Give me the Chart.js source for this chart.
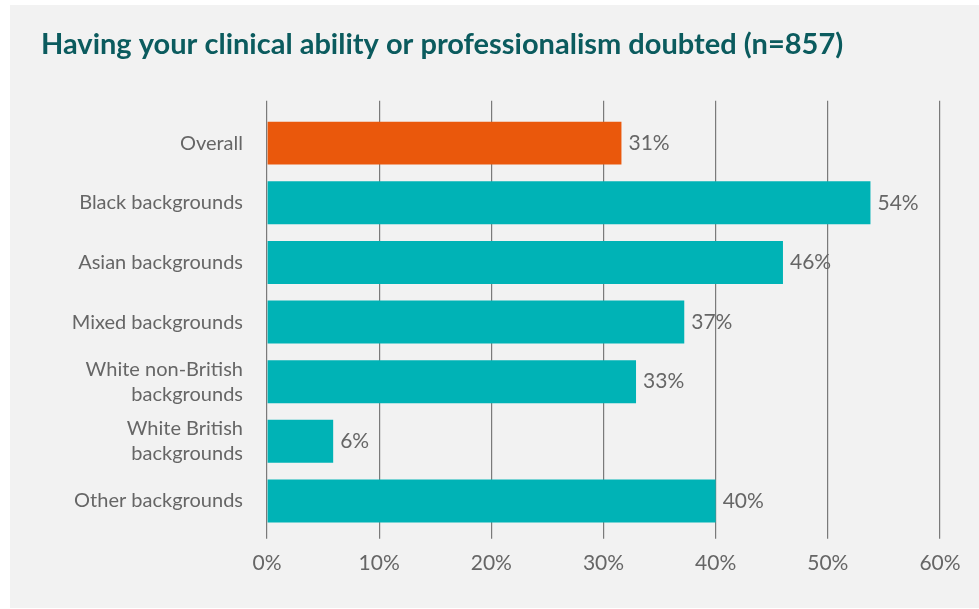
<!DOCTYPE html>
<html>
<head>
<meta charset="utf-8">
<script src="https://cdn.jsdelivr.net/npm/chart.js@4/dist/chart.umd.min.js"></script>
<style>
  html, body { margin: 0; padding: 0; background: #ffffff; }
  #panel { position: absolute; left: 10px; top: 5px; width: 969px; height: 603px; background: #f2f2f2; }
  #chart { display: block; }
</style>
</head>
<body>
<div id="panel"><canvas id="chart" width="969" height="603"></canvas></div>
<script>
var categories = ["Overall", "Black backgrounds", "Asian backgrounds", "Mixed backgrounds",
  ["White non-British", "backgrounds"], ["White British", "backgrounds"], "Other backgrounds"];
var values = [31.6, 53.8, 46.0, 37.2, 32.9, 5.9, 40.0];
var valuelabels = ["31%", "54%", "46%", "37%", "33%", "6%", "40%"];
var xticks = [0, 10, 20, 30, 40, 50, 60];

var orange = "#ea580c";
var teal = "#00b3b6";
var gridgray = "#7a7a7a";
var textgray = "#666666";

//value labels at bar ends
var barlabels = {
  id: "barlabels",
  afterDatasetsDraw: function(chart) {
    var ctx = chart.ctx;
    var meta = chart.getDatasetMeta(0);
    ctx.save();
    ctx.font = "21px Lato";
    ctx.fillStyle = textgray;
    ctx.textAlign = "left";
    ctx.textBaseline = "middle";
    meta.data.forEach(function(bar, i) {
      ctx.fillText(valuelabels[i], bar.x + 7, bar.y);
    });
    ctx.restore();
  }
};

new Chart(document.getElementById("chart"), {
  type: "bar",
  data: {
    datasets: [{
      data: values.map((v, i) => ({x: v, y: i})),
      backgroundColor: values.map((v, i) => i == 0 ? orange : teal),
      borderWidth: 0,
      categoryPercentage: 0.8,
      barPercentage: 0.9
    }]
  },
  options: {
    indexAxis: "y",
    responsive: false,
    animation: false,
    layout: { padding: { left: 31, right: 39, top: 0, bottom: 20 } },
    plugins: {
      legend: { display: false },
      tooltip: { enabled: false },
      title: {
        display: true,
        text: "Having your clinical ability or professionalism doubted (n=857)",
        align: "start",
        color: "#0b5b5e",
        font: { family: "Lato", size: 29, weight: "bold", lineHeight: 1.2 },
        padding: { top: 22, bottom: 39 }
      }
    },
    scales: {
      x: {
        type: "linear",
        min: 0,
        max: 60,
        afterBuildTicks: function(scale) {
          scale.ticks = xticks.map(v => ({value: v}));
        },
        ticks: {
          color: textgray,
          font: { family: "Lato", size: 21 },
          padding: 12,
          callback: v => v + "%"
        },
        grid: { color: gridgray, lineWidth: 1.2, drawTicks: true, tickLength: 8, tickColor: gridgray },
        border: { display: false }
      },
      y: {
        type: "linear",
        reverse: true,
        offset: false,
        min: -0.71,
        max: 6.5,
        afterBuildTicks: function(scale) {
          scale.ticks = categories.map((c, i) => ({value: i}));
        },
        afterFit: function(scale) {
          scale.width = 226;
        },
        ticks: {
          color: textgray,
          font: { family: "Lato", size: 20, lineHeight: 1.25 },
          padding: 16,
          callback: v => categories[v]
        },
        grid: { display: false },
        border: { display: false }
      }
    }
  },
  plugins: [barlabels]
});
</script>
</body>
</html>
